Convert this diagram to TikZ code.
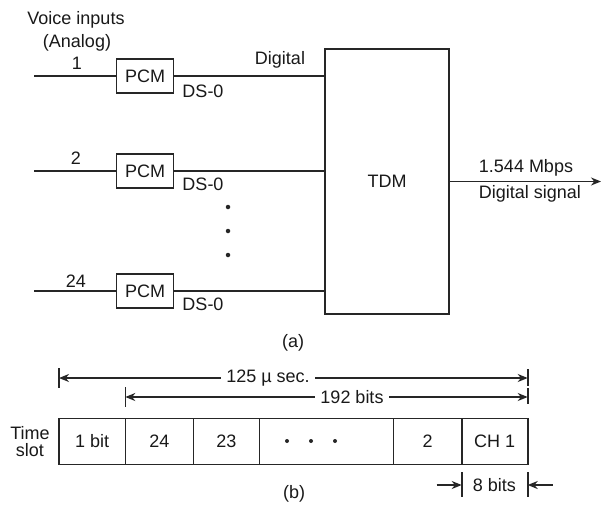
\documentclass[tikz,border=0pt]{standalone}
\usepackage{fontspec}
\setmainfont{Liberation Sans}
\usetikzlibrary{arrows.meta}
\begin{document}
\begin{tikzpicture}[x=1pt,y=-1pt,
  every node/.style={font=\fontsize{18}{20}\selectfont, text=black!90},
  ln/.style={line width=1.6pt, draw=black!85},
  pcm/.style={draw=black!85, line width=1.6pt, minimum width=57pt, minimum height=34pt, inner sep=0pt},
  bigbox/.style={draw=black!85, line width=1.6pt, minimum width=124pt, minimum height=265pt, inner sep=0pt},
  cell/.style={draw=black!85, line width=1.6pt, minimum height=46pt, inner sep=0pt},
  dotnode/.style={circle, fill=black!85, minimum size=4.5pt, inner sep=0pt},
  tipend/.style={-{Stealth[length=10pt,width=8pt]}},
  tipboth/.style={{Stealth[length=10pt,width=8pt]}-{Stealth[length=10pt,width=8pt]}},
  gapl/.style={fill=white, inner xsep=5pt, inner ysep=1pt}]
\useasboundingbox (0,0) rectangle (601,504);
\fill[white] (0,0) rectangle (601,504);

% ---------- part (a) ----------
\node (vi) at (76,20) {Voice inputs};
\node (an) at (77,43) {(Analog)};
\node (n1) at (77,63) {1};
\node (n2) at (76,158) {2};
\node (n24) at (76,281) {24};

\node[pcm] (p1) at (145,76) {PCM};
\node[pcm] (p2) at (145,171) {PCM};
\node[pcm] (p3) at (145,291) {PCM};

\coordinate (in1) at (34,76);
\coordinate (in2) at (34,171);
\coordinate (in3) at (34,291);

\node[bigbox] (tdm) at (387,181.5) {TDM};

\draw[ln] (in1) -- (p1.west);
\draw[ln] (in2) -- (p2.west);
\draw[ln] (in3) -- (p3.west);
\draw[ln] (p1.east) -- (p1.east -| tdm.west);
\draw[ln] (p2.east) -- (p2.east -| tdm.west);
\draw[ln] (p3.east) -- (p3.east -| tdm.west);

\node (dig) at (280,60) {Digital};
\node (ds1) at (203,91) {DS-0};
\node (ds2) at (203,184) {DS-0};
\node (ds3) at (203,304) {DS-0};

\node[dotnode] (v1) at (228,207) {};
\node[dotnode] (v2) at (228,231) {};
\node[dotnode] (v3) at (228,255) {};

\coordinate (out) at (601,181.5);
\draw[ln, tipend] (tdm.east) -- (out);
\node (rate) at (526,168) {1.544 Mbps};
\node (dsig) at (530,194) {Digital signal};

\node (capa) at (293,343) {(a)};

% ---------- part (b) ----------
\node[cell, minimum width=66.3pt] (c1) at (92.15,441.3) {1 bit};
\node[cell, minimum width=68pt]   (c2) at (159.3,441.3) {24};
\node[cell, minimum width=66pt]   (c3) at (226.3,441.3) {23};
\node[cell, minimum width=134pt]  (c4) at (326.3,441.3) {};
\node[cell, minimum width=68.4pt] (c5) at (427.5,441.3) {2};
\node[cell, minimum width=66pt]   (c6) at (494.7,441.3) {CH 1};

\node[dotnode, minimum size=4pt] (h1) at (287,441) {};
\node[dotnode, minimum size=4pt] (h2) at (311,441) {};
\node[dotnode, minimum size=4pt] (h3) at (335,441) {};

\node[align=center, font=\fontsize{18}{17}\selectfont] (ts) at (30,442) {Time\\slot};

% dimension 125 usec
\coordinate (A1) at (59,378);
\coordinate (A2) at (527.7,378);
\draw[ln] ([yshift=10pt]A1) -- ([yshift=-10pt]A1);
\draw[ln] ([yshift=9pt]A2) -- ([yshift=-8pt]A2);
\draw[ln, tipboth] (A1) -- (A2);
\node[gapl] (l125) at (268,378) {125 µ sec.};

% dimension 192 bits
\coordinate (B1) at (125.3,397);
\coordinate (B2) at (527.7,397);
\draw[ln] ([yshift=10pt]B1) -- ([yshift=-10pt]B1);
\draw[ln] ([yshift=9pt]B2) -- ([yshift=-7pt]B2);
\draw[ln, tipboth] (B1) -- (B2);
\node[gapl] (l192) at (352,397) {192 bits};

% dimension 8 bits
\coordinate (E1) at (461.7,485);
\coordinate (E2) at (527.7,485);
\coordinate (E0) at (436.7,485);
\coordinate (E3) at (552.7,485);
\draw[ln] ([yshift=13pt]E1) -- ([yshift=-12pt]E1);
\draw[ln] ([yshift=13pt]E2) -- ([yshift=-12pt]E2);
\draw[ln, tipend] (E0) -- (E1);
\draw[ln, tipend] (E3) -- (E2);
\node (l8) at (494.3,485) {8 bits};

\node (capb) at (294,494) {(b)};
\end{tikzpicture}
\end{document}
